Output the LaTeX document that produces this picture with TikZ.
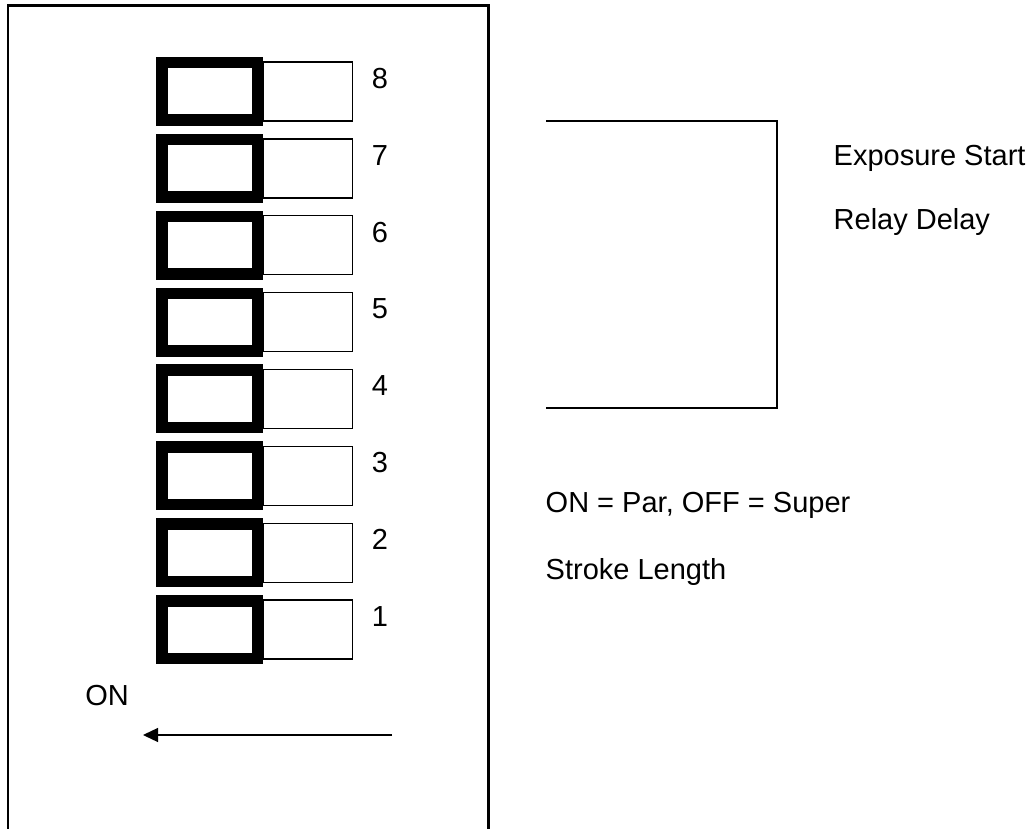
\documentclass[tikz,border=0pt]{standalone}
\usepackage{fontspec}
\setmainfont{Liberation Sans}
\usepackage{tikz}
\usetikzlibrary{arrows.meta, positioning}

\begin{document}
\begin{tikzpicture}[x=1pt, y=-1pt, font=\fontsize{29}{35}\selectfont,
    onpart/.style={draw, line width=11.5pt, minimum width=95.5pt, minimum height=57.5pt, inner sep=0pt},
    offpart/.style={draw, line width=1.3pt, minimum width=89pt, minimum height=59pt, inner sep=0pt, right=0pt of #1}]
      \useasboundingbox (0, 0) rectangle (1034, 829);

      % housing, open at the bottom
      \coordinate (hBL) at (8, 829);
      \coordinate (hTL) at (8, 5.3);
      \coordinate (hTR) at (488.5, 5.3);
      \coordinate (hBR) at (488.5, 829);
      \draw[line width=2.5pt] (hBL) -- (hTL) -- (hTR) -- (hBR);

      % switches
      \node[onpart] (on8) at (209.5, 91.5) {};
      \node[offpart=on8.east] (off8) {};
      \node[inner sep=0pt] (n8) at (380, 78.5) {8};

      \node[onpart] (on7) at (209.5, 168.4) {};
      \node[offpart=on7.east] (off7) {};
      \node[inner sep=0pt] (n7) at (380, 155.4) {7};

      \node[onpart] (on6) at (209.5, 245.2) {};
      \node[offpart=on6.east] (off6) {};
      \node[inner sep=0pt] (n6) at (380, 232.2) {6};

      \node[onpart] (on5) at (209.5, 322.1) {};
      \node[offpart=on5.east] (off5) {};
      \node[inner sep=0pt] (n5) at (380, 309.1) {5};

      \node[onpart] (on4) at (209.5, 398.9) {};
      \node[offpart=on4.east] (off4) {};
      \node[inner sep=0pt] (n4) at (380, 385.9) {4};

      \node[onpart] (on3) at (209.5, 475.8) {};
      \node[offpart=on3.east] (off3) {};
      \node[inner sep=0pt] (n3) at (380, 462.8) {3};

      \node[onpart] (on2) at (209.5, 552.7) {};
      \node[offpart=on2.east] (off2) {};
      \node[inner sep=0pt] (n2) at (380, 539.7) {2};

      \node[onpart] (on1) at (209.5, 629.5) {};
      \node[offpart=on1.east] (off1) {};
      \node[inner sep=0pt] (n1) at (380, 616.5) {1};

      % ON direction
      \node[inner sep=0pt] (onlbl) at (107, 695.5) {ON};
      \coordinate (arrtail) at (392, 735);
      \coordinate (arrtip) at (143, 735);
      \draw[-{Triangle[length=15pt, width=14pt]}, line width=1.3pt] (arrtail) -- (arrtip);

      % bracket for switches 8 to 4
      \coordinate (brT) at (546, 121);
      \coordinate (brTR) at (777, 121);
      \coordinate (brBR) at (777, 408);
      \coordinate (brB) at (546, 408);
      \draw[line width=1.5pt] (brT) -- (brTR) -- (brBR) -- (brB);

      % descriptions
      \node[anchor=base west, inner sep=0pt] (expo) at (833.5, 166) {Exposure Start};
      \node[anchor=base west, inner sep=0pt] (relay) at (833.5, 230) {Relay Delay};
      \node[anchor=base west, inner sep=0pt] (parsup) at (545.5, 512.5) {ON = Par, OFF = Super};
      \node[anchor=base west, inner sep=0pt] (stroke) at (545.5, 579) {Stroke Length};
    \end{tikzpicture}
\end{document}
